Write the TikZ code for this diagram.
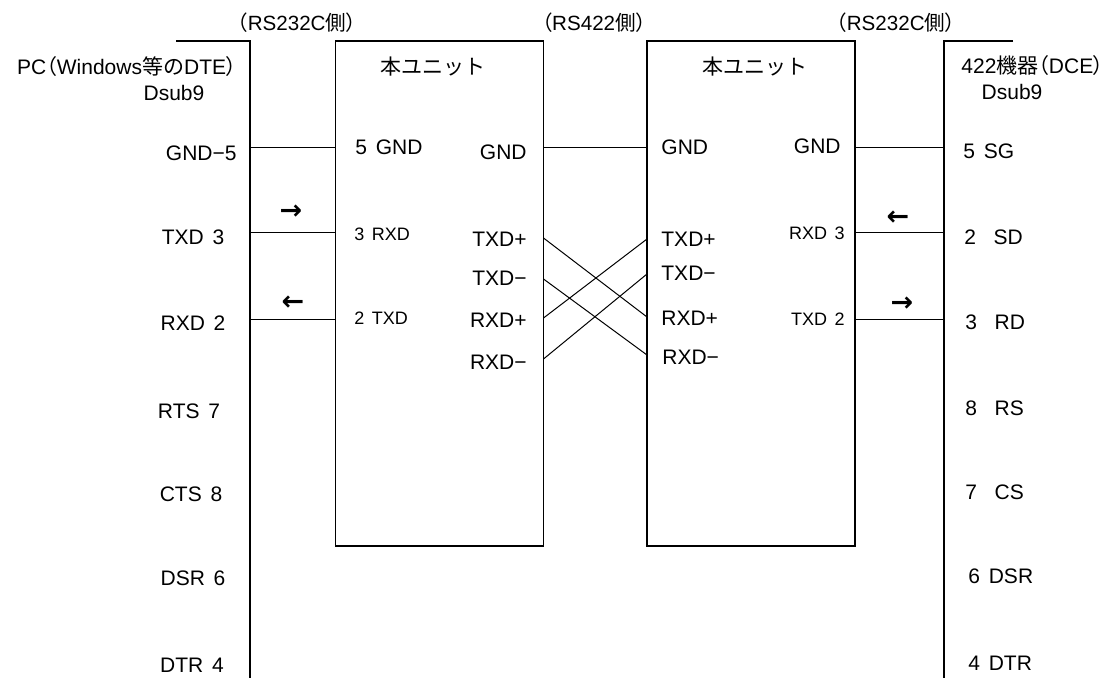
\documentclass[tikz,border=0pt]{standalone}
\usepackage{fontspec}
\setmainfont{Liberation Sans}[WordSpace=1.5]
\newfontfamily\jpfont{Noto Sans CJK JP}
\newfontfamily\jppfont{Noto Sans CJK JP}[RawFeature=+palt]
\newfontfamily\symfont{DejaVu Sans}
\newcommand{\jp}[1]{{\jpfont #1}}
\newcommand{\lp}{{\jppfont （}}
\newcommand{\rp}{{\jppfont ）}}
\usetikzlibrary{positioning}

\tikzset{
  lbl/.style={inner sep=0pt, font=\fontsize{10.5}{12}\selectfont},
  sml/.style={inner sep=0pt, font=\fontsize{9}{10}\selectfont},
  hdr/.style={inner sep=0pt, font=\fontsize{10.3}{11}\selectfont},
  arr/.style={inner sep=0pt, font=\symfont\bfseries\fontsize{13.5}{14}\selectfont},
  unitbox/.style={draw, line width=0.6pt, inner sep=0pt, outer sep=0pt,
    minimum width=104pt, minimum height=252.5pt},
  wire/.style={line width=0.5pt}
}

\begin{document}
\begin{tikzpicture}[x=0.5pt, y=-0.5pt]
  \useasboundingbox (0,0) rectangle (1111,678);
  % Headings
  \node[hdr] (h1) at (297,23) {\lp RS232C\jp{側}\rp};
  \node[hdr] (h2) at (594,23) {\lp RS422\jp{側}\rp};
  \node[hdr] (h3) at (896,23) {\lp RS232C\jp{側}\rp};
  % Levels
  \coordinate (ygnd) at (0,148);
  \coordinate (ytx) at (0,233);
  \coordinate (yrx) at (0,319);
  \coordinate (ybot) at (0,678);
  % PC side
  \coordinate (pcl) at (250,41);
  \draw[line width=0.6pt] (176,41) -- (pcl) -- (pcl |- ybot);
  \node[lbl, anchor=east] (pc) at (237,67) {PC\lp Windows\jp{等の}DTE\rp};
  \node[lbl] (pcd) at (174,93) {Dsub9};
  \node[lbl, anchor=east] (p5) at (237,153) {GND−5};
  \node[lbl] (p3) at (193,237) {TXD 3};
  \node[lbl] (p2) at (193,323) {RXD 2};
  \node[lbl] (p7) at (189,411) {RTS 7};
  \node[lbl] (p8) at (191,494) {CTS 8};
  \node[lbl] (p6) at (193,578) {DSR 6};
  \node[lbl] (p4) at (192,665) {DTR 4};
  \node[arr] (ar1) at (291,212) {→};
  \node[arr] (ar2) at (293,303) {←};
  % First unit
  \node[unitbox] (u1) at (439.5,293.5) {};
  \node[lbl] (t1) at (433,67) {\jp{本ユニット}};
  \node[lbl, anchor=west] (u1g) at (355,147) {5 GND};
  \node[lbl, anchor=east] (u1gr) at (527,152) {GND};
  \node[sml, anchor=west] (u1rx) at (354,234) {3 RXD};
  \node[sml, anchor=west] (u1tx) at (354,318) {2 TXD};
  \node[lbl, anchor=east] (u1a) at (527,239) {TXD+};
  \node[lbl, anchor=east] (u1b) at (527,278) {TXD−};
  \node[lbl, anchor=east] (u1c) at (527,320) {RXD+};
  \node[lbl, anchor=east] (u1d) at (527,362) {RXD−};
  % Second unit
  \node[unitbox] (u2) at (751,293.5) {};
  \node[lbl] (t2) at (755,67) {\jp{本ユニット}};
  \node[lbl, anchor=west] (u2g) at (661,147) {GND};
  \node[lbl, anchor=east] (u2gr) at (841,146) {GND};
  \node[lbl, anchor=west] (u2a) at (661,239) {TXD+};
  \node[lbl, anchor=west] (u2b) at (661,273) {TXD−};
  \node[lbl, anchor=west] (u2c) at (661,318) {RXD+};
  \node[lbl, anchor=west] (u2d) at (662,357) {RXD−};
  \node[sml, anchor=east] (u2rx) at (845,233) {RXD 3};
  \node[sml, anchor=east] (u2tx) at (845,319) {TXD 2};
  % DCE side
  \coordinate (dce) at (944,41);
  \draw[line width=0.6pt] (1013,41) -- (dce) -- (dce |- ybot);
  \node[lbl, anchor=west] (dc) at (961,66) {422\jp{機器}\lp DCE\rp};
  \node[lbl] (dcd) at (1012,92) {Dsub9};
  \node[lbl, anchor=west] (d5) at (963,151) {5 SG};
  \node[lbl, anchor=west] (d2) at (964,237) {2~~SD};
  \node[lbl, anchor=west] (d3) at (965,322) {3~~RD};
  \node[lbl, anchor=west] (d8) at (965,408) {8~~RS};
  \node[lbl, anchor=west] (d7) at (965,492) {7~~CS};
  \node[lbl, anchor=west] (d6) at (968,576) {6 DSR};
  \node[lbl, anchor=west] (d4) at (968,663) {4 DTR};
  \node[arr] (ar3) at (898,218) {←};
  \node[arr] (ar4) at (902,304) {→};
  % Wires
  \draw[wire] (pcl |- ygnd) -- (u1.west |- ygnd);
  \draw[wire] (pcl |- ytx) -- (u1.west |- ytx);
  \draw[wire] (pcl |- yrx) -- (u1.west |- yrx);
  \draw[wire] (u1.east |- ygnd) -- (u2.west |- ygnd);
  \draw[wire] (u2.east |- ygnd) -- (dce |- ygnd);
  \draw[wire] (u2.east |- ytx) -- (dce |- ytx);
  \draw[wire] (u2.east |- yrx) -- (dce |- yrx);
  % Crossed pairs
  \coordinate (u1txp) at (u1.east |- 0,238);
  \coordinate (u1txm) at (u1.east |- 0,279);
  \coordinate (u1rxp) at (u1.east |- 0,318);
  \coordinate (u1rxm) at (u1.east |- 0,359);
  \coordinate (u2txp) at (u2.west |- 0,239);
  \coordinate (u2txm) at (u2.west |- 0,274);
  \coordinate (u2rxp) at (u2.west |- 0,317);
  \coordinate (u2rxm) at (u2.west |- 0,355);
  \draw[wire] (u1txp) -- (u2rxp);
  \draw[wire] (u1txm) -- (u2rxm);
  \draw[wire] (u1rxp) -- (u2txp);
  \draw[wire] (u1rxm) -- (u2txm);
\end{tikzpicture}
\end{document}
